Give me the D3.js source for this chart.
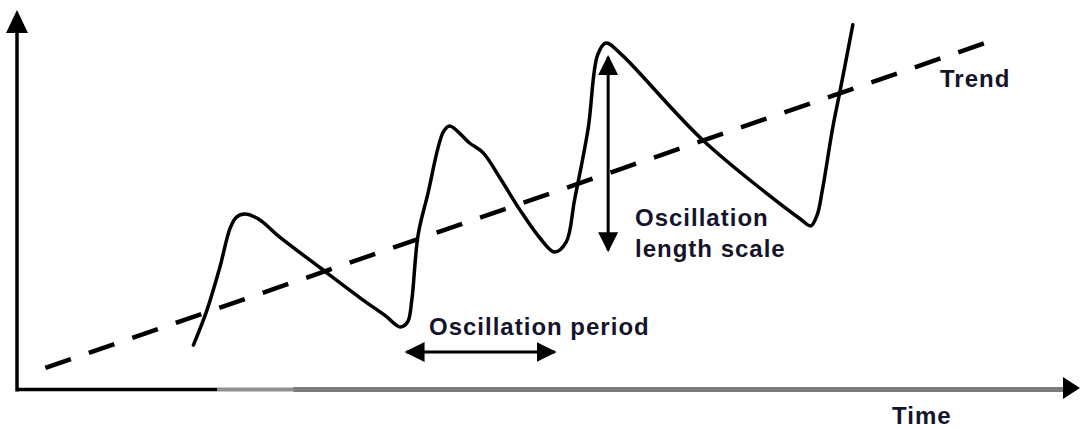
<!DOCTYPE html>
<html>
<head>
<meta charset="utf-8">
<script src="https://cdn.jsdelivr.net/npm/d3@7"></script>
<style>
  html, body { margin: 0; padding: 0; background: #fff; }
  svg { display: block; }
  .label { font-family: "Liberation Sans", Arial, sans-serif; font-weight: bold; font-size: 24px; letter-spacing: 1px; fill: #14142a; }
</style>
</head>
<body>
<div id="chart"></div>
<script>
// Schematic: oscillation around a rising trend (abstract units 0-100)
const timeValues = [16.8, 18.1, 19.3, 20.3, 20.9, 21.7, 23.0, 25.0, 28.9, 32.7, 35.1, 36.5, 37.2, 37.6, 38.2, 39.1, 40.6, 41.2, 43.1, 44.4, 46.0, 47.9, 49.8, 51.2, 52.3, 53.1, 54.4, 55.3, 56.1, 57.6, 65.3, 74.6, 75.6, 76.2, 76.7, 77.7, 78.4, 79.6];
const signalValues = [11.8, 21.1, 32.1, 42.6, 45.5, 46.3, 45.0, 40.3, 32.1, 24.2, 19.5, 16.6, 17.9, 23.7, 40.8, 51.3, 67.9, 69.5, 65.0, 62.4, 55.8, 47.4, 40.0, 36.3, 38.9, 50.0, 68.9, 88.2, 91.3, 88.2, 65.8, 45.0, 43.2, 46.0, 52.6, 69.2, 78.9, 96.1];
const trendTime = [2.7, 92.5];
const trendValues = [5.8, 91.6];

// annotation arrows: period (horizontal) and length scale (vertical)
const periodSpan = [37.1, 51.2];   // time units, at level periodLevel
const periodLevel = 10.0;
const lengthSpan = [36.8, 87.6];   // value units, at time lengthTime
const lengthTime = 56.3;

const width = 1081, height = 430;

const x = d3.scaleLinear().domain([0, 100]).range([17, 1067]);
const y = d3.scaleLinear().domain([0, 100]).range([390, 10]);

const svg = d3.select("#chart").append("svg")
    .attr("width", width)
    .attr("height", height);

// --- axes (drawn by hand, schematic style) ---
const axisX0 = x(0), axisY0 = y(0);

svg.append("line")
    .attr("x1", axisX0).attr("y1", axisY0 + 1.5)
    .attr("x2", axisX0).attr("y2", 30)
    .attr("stroke", "#000").attr("stroke-width", 3.5);
svg.append("path")
    .attr("d", `M${axisX0 - 11},33 L${axisX0 + 11},33 L${axisX0},10 Z`)
    .attr("fill", "#000");

// x axis in three shades like the scanned original
const xSegments = [
    { from: 0, to: 19.1, color: "#000", w: 3.5 },
    { from: 19.1, to: 26.3, color: "#909090", w: 4 },
    { from: 26.3, to: 99.7, color: "#7c7c7c", w: 5 }
];
svg.append("g").selectAll("line")
    .data(xSegments)
    .join("line")
    .attr("x1", d => x(d.from)).attr("x2", d => x(d.to))
    .attr("y1", axisY0 - 0.5).attr("y2", axisY0 - 0.5)
    .attr("stroke", d => d.color)
    .attr("stroke-width", d => d.w);
svg.append("path")
    .attr("d", `M1063,${axisY0 - 13} L1080,${axisY0 - 2} L1063,${axisY0 + 9} Z`)
    .attr("fill", "#000");

// --- trend (dashed) ---
svg.append("line")
    .attr("x1", x(trendTime[0])).attr("y1", y(trendValues[0]))
    .attr("x2", x(trendTime[1])).attr("y2", y(trendValues[1]))
    .attr("stroke", "#000")
    .attr("stroke-width", 4.5)
    .attr("stroke-dasharray", "27 19");

// --- oscillating signal ---
const signal = timeValues.map((t, i) => ({ t, v: signalValues[i] }));
const line = d3.line()
    .x(d => x(d.t))
    .y(d => y(d.v))
    .curve(d3.curveCatmullRom.alpha(0.5));

svg.append("path")
    .datum(signal)
    .attr("d", line)
    .attr("fill", "none")
    .attr("stroke", "#000")
    .attr("stroke-width", 3.5)
    .attr("stroke-linejoin", "round")
    .attr("stroke-linecap", "round");

// --- double arrows ---
const defs = svg.append("defs");
defs.append("marker")
    .attr("id", "head")
    .attr("viewBox", "0 0 10 10")
    .attr("refX", 9).attr("refY", 5)
    .attr("markerUnits", "userSpaceOnUse")
    .attr("markerWidth", 20).attr("markerHeight", 22)
    .attr("orient", "auto-start-reverse")
    .append("path")
    .attr("d", "M0,0 L10,5 L0,10 Z")
    .attr("fill", "#000");

svg.append("line")
    .attr("x1", x(periodSpan[0])).attr("x2", x(periodSpan[1]))
    .attr("y1", y(periodLevel)).attr("y2", y(periodLevel))
    .attr("stroke", "#000").attr("stroke-width", 3)
    .attr("marker-start", "url(#head)")
    .attr("marker-end", "url(#head)");

svg.append("line")
    .attr("x1", x(lengthTime)).attr("x2", x(lengthTime))
    .attr("y1", y(lengthSpan[1])).attr("y2", y(lengthSpan[0]))
    .attr("stroke", "#000").attr("stroke-width", 3)
    .attr("marker-start", "url(#head)")
    .attr("marker-end", "url(#head)");

// --- labels ---
const labels = [
    { text: "Trend", x: 940, y: 87 },
    { text: "Oscillation", x: 635, y: 226 },
    { text: "length scale", x: 635, y: 257 },
    { text: "Oscillation period", x: 429, y: 335 },
    { text: "Time", x: 892, y: 424 }
];
svg.append("g").selectAll("text")
    .data(labels)
    .join("text")
    .attr("class", "label")
    .attr("x", d => d.x)
    .attr("y", d => d.y)
    .text(d => d.text);
</script>
</body>
</html>
